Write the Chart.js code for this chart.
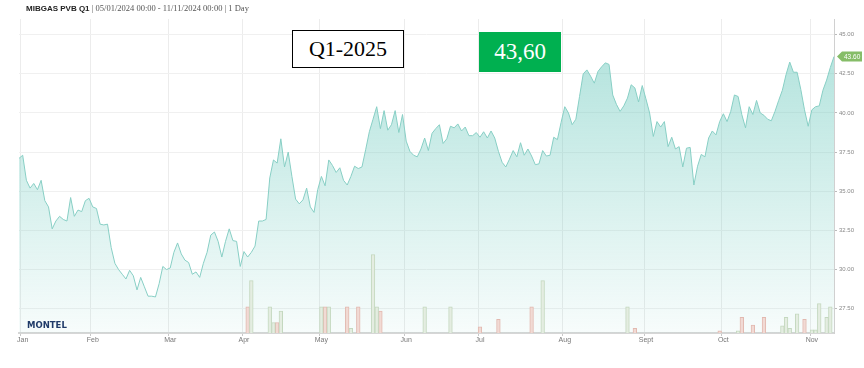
<!DOCTYPE html>
<html>
<head>
<meta charset="utf-8">
<script src="https://cdn.jsdelivr.net/npm/chart.js@4.4.1/dist/chart.umd.min.js"></script>
<style>
  body { margin: 0; background: #fff; }
  #wrap { position: relative; width: 864px; height: 368px; }
  #title { position: absolute; left: 26px; top: 3px; font: bold 8px 'Liberation Sans', Arial, sans-serif; color: #222; white-space: nowrap; }
  #title span { font: 8.5px 'Liberation Serif', serif; color: #555; font-weight: normal; }
  #contract { position: absolute; left: 292px; top: 30px; width: 110px; height: 36px; border: 1px solid #000; background: #fff;
              font: 22px 'Liberation Serif', serif; line-height: 36px; text-align: center; color: #000; }
  #last { position: absolute; left: 479px; top: 32px; width: 82px; height: 40px; background: #00b050;
          font: 23px 'Liberation Serif', serif; line-height: 40px; text-align: center; color: #fff; }
  #logo { position: absolute; left: 27px; top: 320px; font: bold 8.5px 'DejaVu Sans', sans-serif; color: #1f3a68; }
</style>
</head>
<body>
<div id="wrap">
  <canvas id="chart" width="864" height="368"></canvas>
  <div id="title">MIBGAS PVB Q1<span> | 05/01/2024 00:00 - 11/11/2024 00:00 | 1 Day</span></div>
  <div id="contract">Q1-2025</div>
  <div id="last">43,60</div>
  <div id="logo">MONTEL</div>
</div>
<script>
// one value per trading day, 05/01/2024 .. 11/11/2024 (EUR/MWh)
const prices = [
  37.1, 37.3, 35.7, 35.2, 35.5, 35.1, 35.7, 34.4, 34.0, 32.6,
  33.1, 33.4, 33.2, 33.1, 34.6, 33.4, 33.8, 33.7, 34.4, 34.55,
  34.0, 33.9, 32.9, 32.85, 32.9, 31.4, 30.4, 30.0, 29.7, 29.4,
  29.95, 29.6, 28.7, 29.5, 28.9, 28.3, 28.3, 28.25, 29.1, 30.2,
  30.0, 30.1, 31.1, 31.7, 31.0, 30.6, 30.45, 29.7, 29.85, 29.5,
  30.4, 31.1, 32.2, 32.4, 31.8, 30.8, 31.8, 32.6, 31.85, 31.8,
  30.2, 31.15, 30.8, 31.1, 31.5, 33.1, 33.1, 33.2, 35.85, 37.0,
  36.8, 38.35, 36.55, 37.5, 35.95, 34.5, 34.2, 34.45, 35.2, 34.0,
  33.65, 35.1, 35.95, 35.35, 37.0, 36.65, 36.2, 36.5, 35.7, 35.4,
  35.95, 36.6, 36.45, 36.55, 37.65, 38.8, 39.6, 40.4, 39.0, 40.15,
  38.9, 39.25, 40.15, 38.75, 39.9, 38.2, 37.55, 37.3, 37.2, 37.7,
  38.4, 37.6, 38.7, 39.0, 39.25, 38.05, 38.35, 39.15, 39.05, 39.3,
  38.85, 39.1, 38.55, 38.55, 38.75, 38.45, 38.8, 38.4, 38.85, 38.4,
  37.55, 36.85, 36.55, 37.05, 37.6, 37.2, 38.1, 37.3, 37.7, 37.25,
  36.7, 36.75, 37.6, 37.25, 37.3, 38.45, 38.3, 39.4, 40.4, 40.0,
  39.25, 39.6, 41.05, 42.5, 42.75, 42.35, 41.9, 42.65, 42.95, 43.2,
  43.1, 41.15, 40.55, 40.1, 40.45, 40.95, 41.8, 41.6, 40.7, 41.75,
  40.9, 40.0, 38.5, 39.45, 39.1, 39.45, 37.85, 38.45, 37.7, 37.85,
  36.55, 37.75, 37.8, 35.4, 36.6, 37.35, 37.2, 38.4, 38.85, 38.6,
  39.45, 39.95, 39.45, 40.1, 41.15, 41.05, 39.9, 39.05, 40.4, 39.9,
  40.8, 40.0, 39.85, 39.6, 39.5, 40.1, 40.8, 41.45, 42.45, 43.25,
  42.6, 42.6, 41.5, 40.2, 39.15, 40.2, 40.4, 40.45, 41.45, 42.1,
  42.9, 43.6
];

// month labels and the trading-day index where each one sits
const monthNames = ['Jan', 'Feb', 'Mar', 'Apr', 'May', 'Jun', 'Jul', 'Aug', 'Sept', 'Oct', 'Nov'];
const monthTicks = [1, 20, 41, 61, 82, 105, 125, 148, 170, 191, 215];

const priceTicks = [27.5, 30, 32.5, 35, 37.5, 40, 42.5, 45];

// volume bars (green = up days, red = down days)
const upDays = [63, 68, 69, 71, 82, 84, 90, 96, 97, 110, 117, 142, 165, 195, 207, 208, 209, 211, 215, 216, 217, 219, 220];
const upVolumes = [10, 5, 2, 4.2, 5, 5, 0.9, 15, 5, 5, 5, 10, 5, 0.4, 1.35, 3, 0.9, 3.65, 0.6, 0.6, 5.6, 3, 5];
const downDays = [62, 70, 83, 89, 92, 98, 125, 130, 139, 167, 190, 196, 199, 202, 213];
const downVolumes = [5, 2, 5, 5, 5, 4.2, 1.2, 2.6, 5, 0.9, 0.4, 3, 1.5, 3, 2.6];

const labels = prices.map((p, i) => i);

function spread(days, vols) {
  const out = prices.map(() => null);
  days.forEach((d, k) => { out[d] = vols[k]; });
  return out;
}

function isMonth(ctx) {
  return ctx.tick && monthTicks.includes(ctx.tick.value);
}

const lastTag = {
  id: 'lastTag',
  afterDraw(chart) {
    const ctx = chart.ctx;
    const y = chart.scales.y.getPixelForValue(prices[prices.length - 1]);
    const x = chart.chartArea.right + 3;
    ctx.save();
    ctx.fillStyle = '#86bd68';
    ctx.beginPath();
    ctx.moveTo(x, y);
    ctx.lineTo(x + 5, y - 5);
    ctx.lineTo(x + 25, y - 5);
    ctx.lineTo(x + 25, y + 5);
    ctx.lineTo(x + 5, y + 5);
    ctx.closePath();
    ctx.fill();
    ctx.fillStyle = '#fff';
    ctx.font = '6.5px "Liberation Sans", Arial, sans-serif';
    ctx.textBaseline = 'middle';
    ctx.fillText(prices[prices.length - 1].toFixed(2), x + 7, y + 0.5);
    ctx.restore();
  }
};

new Chart(document.getElementById('chart'), {
  data: {
    labels: labels,
    datasets: [
      {
        type: 'bar',
        data: spread(upDays, upVolumes),
        yAxisID: 'vol',
        grouped: false,
        backgroundColor: '#e4ede1',
        borderColor: '#c4d8bf',
        borderWidth: 1,
        barPercentage: 1,
        categoryPercentage: 1,
        order: 0
      },
      {
        type: 'bar',
        data: spread(downDays, downVolumes),
        yAxisID: 'vol',
        grouped: false,
        backgroundColor: '#f1dad4',
        borderColor: '#e2b9b0',
        borderWidth: 1,
        barPercentage: 1,
        categoryPercentage: 1,
        order: 0
      },
      {
        type: 'line',
        data: prices,
        yAxisID: 'y',
        borderColor: '#88cfc5',
        borderWidth: 1,
        pointRadius: 0,
        tension: 0,
        fill: 'start',
        order: 1,
        backgroundColor: function(context) {
          const area = context.chart.chartArea;
          if (!area) return 'rgba(120,205,195,0.3)';
          const g = context.chart.ctx.createLinearGradient(0, area.top, 0, area.bottom);
          g.addColorStop(0, 'rgba(105,200,188,0.55)');
          g.addColorStop(1, 'rgba(105,200,188,0.05)');
          return g;
        }
      }
    ]
  },
  options: {
    responsive: false,
    animation: false,
    layout: { padding: { left: 19, top: 19, right: 0, bottom: 0 } },
    plugins: { legend: { display: false }, tooltip: { enabled: false } },
    scales: {
      x: {
        type: 'category',
        offset: false,
        afterFit: s => { s.height = 35; },
        grid: {
          color: ctx => isMonth(ctx) ? '#ececec' : 'rgba(0,0,0,0)',
          tickColor: ctx => isMonth(ctx) ? '#c8c8c8' : 'rgba(0,0,0,0)',
          tickLength: 3
        },
        border: { color: '#d6d6d6', width: 2 },
        ticks: {
          autoSkip: false,
          maxRotation: 0,
          padding: 0,
          color: '#777',
          font: { family: 'Liberation Sans', size: 7 },
          callback: (val, i) => {
            const k = monthTicks.indexOf(i);
            return k >= 0 ? monthNames[k] : '';
          }
        }
      },
      y: {
        position: 'right',
        min: 25.95,
        max: 46,
        afterFit: s => { s.width = 30; },
        afterBuildTicks: s => { s.ticks = priceTicks.map(v => ({ value: v })); },
        grid: { color: '#f0f0f0', tickColor: '#bbb', tickLength: 3 },
        border: { color: '#d0d0d0', width: 1 },
        ticks: {
          padding: 2,
          color: '#888',
          font: { family: 'Liberation Sans', size: 6 },
          callback: v => v.toFixed(2)
        }
      },
      vol: {
        display: false,
        min: 0,
        max: 60
      }
    }
  },
  plugins: [lastTag]
});
</script>
</body>
</html>
